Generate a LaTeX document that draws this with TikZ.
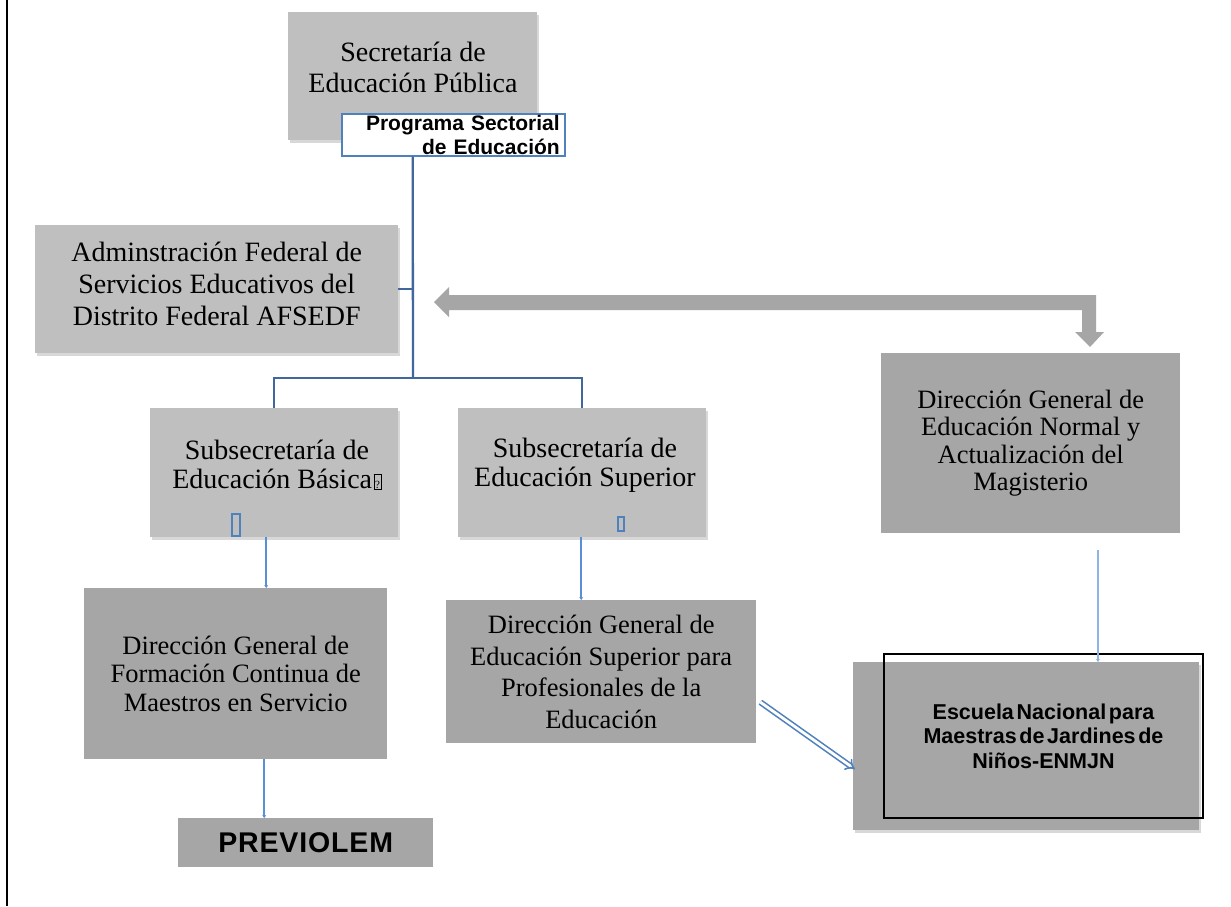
\documentclass[tikz,border=0pt]{standalone}
\usepackage{fontspec}
\setmainfont{Liberation Serif}
\setsansfont{Liberation Sans}
\newfontfamily\tightsans{Liberation Sans}[WordSpace=0.45]
\newfontfamily\spacedsans{Liberation Sans}[LetterSpace=3]
\usetikzlibrary{shadows,arrows.meta,calc}
\definecolor{lgray}{HTML}{BFBFBF}
\definecolor{dgray}{HTML}{A6A6A6}
\definecolor{treeblue}{HTML}{41689C}
\definecolor{arrblue}{HTML}{5A8FD5}
\definecolor{paleblue}{HTML}{8EB4E3}
\definecolor{brdblue}{HTML}{4F81BD}
\newcommand{\qglyph}{\kern1.5pt{\fboxsep=0.7pt\fboxrule=0.9pt\fbox{\rule{0pt}{13pt}\fontsize{11}{11}\selectfont ?}}}
\begin{document}
\begin{tikzpicture}[x=1pt,y=-1pt,
  lbox/.style={fill=lgray, draw=none, anchor=north west, inner sep=0pt, align=center,
    drop shadow={shadow xshift=2pt,shadow yshift=-2.5pt,opacity=0.3}},
  dbox/.style={fill=dgray, draw=none, anchor=north west, inner sep=0pt, align=center},
  tree/.style={draw=treeblue, line width=2.3pt},
  barrow/.style={draw=arrblue, line width=2.3pt, -{Stealth[length=3pt,width=4pt]}},
  parrow/.style={draw=paleblue, line width=1.6pt, -{Stealth[length=3pt,width=4pt]}},
  smallrect/.style={draw=brdblue, line width=1.6pt},
  dblarrow/.style={draw=brdblue, double=white, double distance=2.8pt, line width=1.6pt, -{Implies}},
]
\useasboundingbox (0,0) rectangle (1231,906);
\fill[white] (0,0) rectangle (1231,906);
\draw[line width=2pt] (7,0) -- (7,906);

% top
\node[lbox, minimum width=249pt, minimum height=128pt] (sep) at (288,12) {};
\node[font=\fontsize{28}{31}\selectfont, align=center] (sept) at (413,67) {Secretaría de\\Educación Pública};
\node[draw=brdblue, line width=1.5pt, fill=white, anchor=north west, minimum width=223pt,
  minimum height=42pt, text width=213pt, align=right, inner sep=0pt,
  font=\tightsans\bfseries\fontsize{21}{23.5}\selectfont] (pse) at (341,113) {Programa Sectorial\\de Educación};

% AFSEDF
\node[lbox, minimum width=363pt, minimum height=128pt, font=\fontsize{28}{32}\selectfont] (afs) at (35,225)
  {Adminstración Federal de\\Servicios Educativos del\\Distrito Federal AFSEDF\\[-22pt]};

% subsecretarias
\node[lbox, minimum width=248pt, minimum height=129pt] (sbb) at (150,408) {};
\node[lbox, minimum width=248pt, minimum height=129pt] (sbs) at (458,408) {};
\node[font=\fontsize{28}{29.5}\selectfont, align=center] (sbbt) at (277,465)
  {Subsecretaría de\\Educación Básica\qglyph};
\node[font=\fontsize{28}{29.5}\selectfont, align=center] (sbst) at (585,465)
  {Subsecretaría de\\Educación Superior};
\draw[smallrect] (232,514) rectangle (240,536);
\draw[smallrect] (618,517) rectangle (624,531);

% direcciones
\node[dbox, minimum width=303pt, minimum height=171pt, font=\fontsize{26.5}{28.5}\selectfont] (dgf) at (84,588)
  {Dirección General de\\Formación Continua de\\Maestros en Servicio};
\node[dbox, minimum width=310pt, minimum height=143pt, font=\fontsize{26.5}{31.5}\selectfont] (dgs) at (446,600)
  {Dirección General de\\Educación Superior para\\Profesionales de la\\Educación};
\node[dbox, minimum width=299pt, minimum height=180pt, font=\fontsize{26.5}{27.5}\selectfont] (dgn) at (881,353)
  {Dirección General de\\Educación Normal y\\Actualización del\\Magisterio};

% PREVIOLEM
\node[dbox, minimum width=255pt, minimum height=49pt, font=\spacedsans\bfseries\fontsize{28.5}{30}\selectfont] (prv) at (178,818)
  {PREVIOLEM};

% Escuela
\node[dbox, minimum width=346pt, minimum height=168pt,
  drop shadow={shadow xshift=2pt,shadow yshift=-2.5pt,opacity=0.3}] (esg) at (853,662) {};
\node[draw=black, line width=2pt, anchor=north west, minimum width=319pt, minimum height=164pt,
  inner sep=0pt, align=center, font=\tightsans\bfseries\fontsize{21.5}{24.5}\selectfont] (esc) at (883,653)
  {Escuela Nacional para\\Maestras de Jardines de\\Niños-ENMJN};

% tree connectors
\coordinate (hub) at (413,378);
\draw[tree] (pse.south -| sep.south) -- (hub);
\draw[tree] (sbb.north) -- (sbb.north |- hub) -- (sbs.north |- hub) -- (sbs.north);
\draw[tree] (afs.east) -- (afs.east -| hub);

% blue arrows
\draw[barrow] ([xshift=-8pt]sbb.south) -- ([xshift=-8pt]sbb.south |- dgf.north);
\draw[barrow] ([xshift=-1pt]sbs.south) -- ([xshift=-1pt]sbs.south |- dgs.north);
\draw[barrow] ([xshift=28.5pt]dgf.south) -- ([xshift=28.5pt]dgf.south |- prv.north);
\coordinate (d1) at (1098,550);
\draw[parrow] (d1) -- (d1 |- esg.north);
\draw[dblarrow] ([xshift=4pt,yshift=-30.5pt]dgs.east) -- ([xshift=2pt,yshift=-23pt]esg.west);

% big gray block arrow
\fill[dgray] (434,302) -- (449,287) -- (449,295) -- (1096,295) -- (1096,332) -- (1104,332)
  -- (1090,347) -- (1075,332) -- (1082,332) -- (1082,310) -- (449,310) -- (449,317) -- cycle;
\end{tikzpicture}
\end{document}
